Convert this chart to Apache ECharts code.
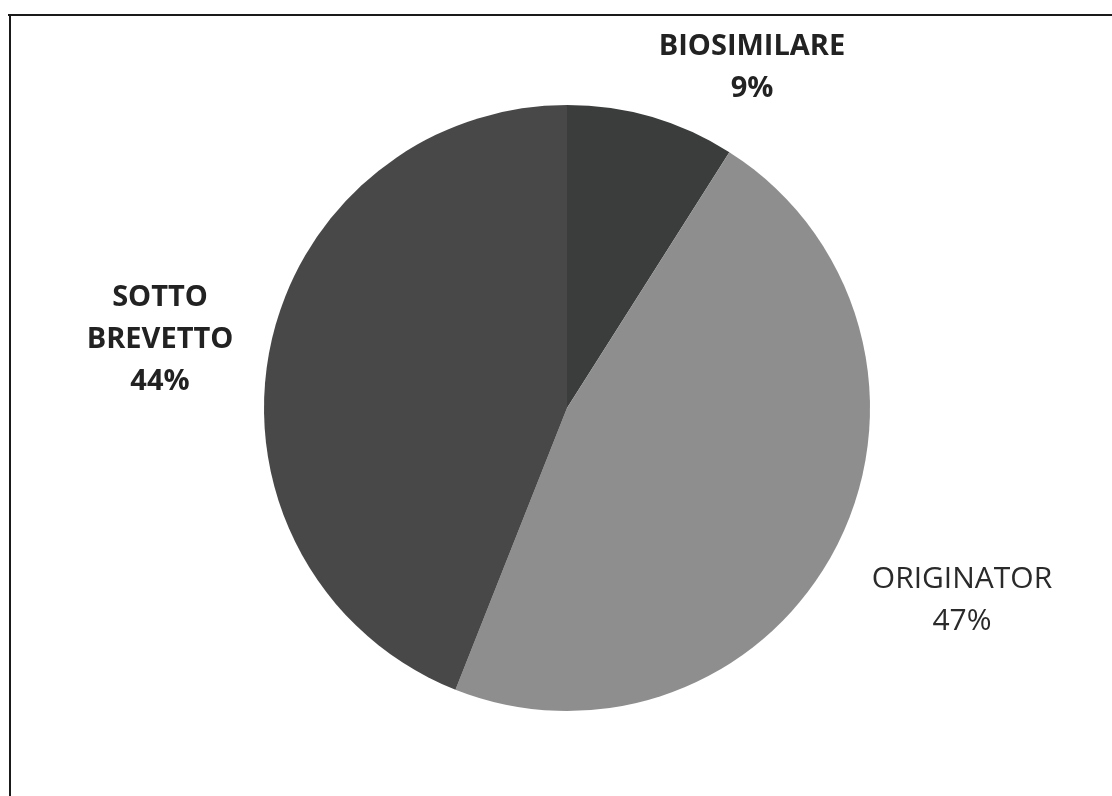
<!DOCTYPE html>
<html lang="it">
<head>
    <meta charset="UTF-8">
    <title>Biosimilare / Originator / Sotto brevetto</title>
    <script src="https://cdn.jsdelivr.net/npm/echarts@6/dist/echarts.min.js"></script>
    <style>
        html, body { margin: 0; padding: 0; background: #fff; }
        #pieViz { width: 1112px; height: 796px; }
    </style>
</head>
<body>
    <div id="pieViz"></div>
    <script>
        // data
        var categories = ['BIOSIMILARE', 'ORIGINATOR', 'SOTTO BREVETTO'];
        var labelLines = ['BIOSIMILARE', 'ORIGINATOR', 'SOTTO\nBREVETTO'];
        var shares = [9, 47, 44];
        var colors = ['#3b3d3d', '#8e8e8e', '#484848'];

        // where each label sits (centre of text block)
        var labelPos = {
            'BIOSIMILARE': [752, 68],
            'ORIGINATOR': [962, 600],
            'SOTTO BREVETTO': [160, 340]
        };

        var pieData = [];
        for (var i = 0; i < categories.length; i++) {
            pieData.push({
                name: categories[i],
                value: shares[i],
                itemStyle: { color: colors[i] },
                label: i == 1 ? { fontWeight: 500, fontSize: 30, color: '#2a2a2a' } : {}
            });
        }

        var chart = echarts.init(document.getElementById('pieViz'));
        var option = {
            animation: false,
            backgroundColor: '#fff',
            graphic: [
                { type: 'line', shape: { x1: 8, y1: 15, x2: 1112, y2: 15 }, style: { stroke: '#1a1a1a', lineWidth: 2 } },
                { type: 'line', shape: { x1: 10, y1: 15, x2: 10, y2: 796 }, style: { stroke: '#1a1a1a', lineWidth: 2 } }
            ],
            series: [{
                type: 'pie',
                center: [567, 408],
                radius: 303,
                startAngle: 90,
                clockwise: true,
                data: pieData,
                itemStyle: { borderWidth: 0 },
                labelLine: { show: false },
                label: {
                    position: 'outside',
                    fontFamily: 'Open Sans',
                    fontWeight: 'bold',
                    fontSize: 29,
                    lineHeight: 42,
                    color: '#222',
                    align: 'center',
                    formatter: function (p) {
                        return labelLines[p.dataIndex] + '\n' + p.value + '%';
                    }
                },
                labelLayout: function (params) {
                    var pos = labelPos[categories[params.dataIndex]];
                    return {
                        x: pos[0],
                        y: pos[1],
                        align: 'center',
                        verticalAlign: 'middle'
                    };
                },
                emphasis: { disabled: true }
            }]
        };
        chart.setOption(option);
    </script>
</body>
</html>
